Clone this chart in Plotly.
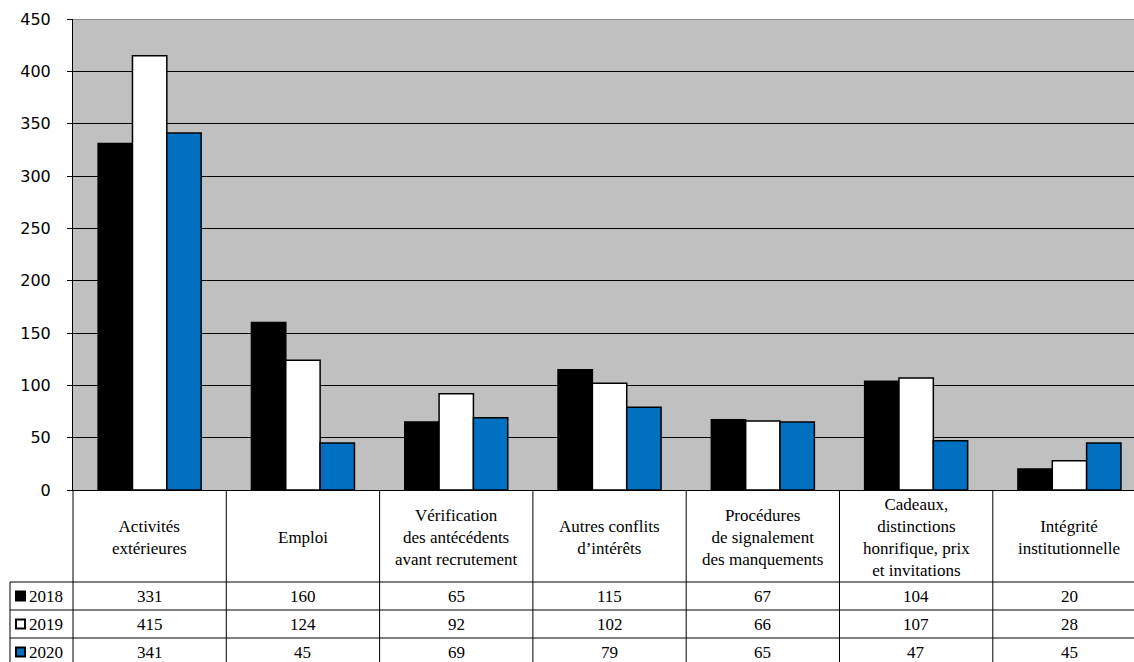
import plotly.graph_objects as go

categories = [
    "Activités<br>extérieures",
    "Emploi",
    "Vérification<br>des antécédents<br>avant recrutement",
    "Autres conflits<br>d’intérêts",
    "Procédures<br>de signalement<br>des manquements",
    "Cadeaux,<br>distinctions<br>honrifique, prix<br>et invitations",
    "Intégrité<br>institutionnelle",
]
years = ["2018", "2019", "2020"]
values_2018 = [331, 160, 65, 115, 67, 104, 20]
values_2019 = [415, 124, 92, 102, 66, 107, 28]
values_2020 = [341, 45, 69, 79, 65, 47, 45]
series = [values_2018, values_2019, values_2020]
colors = ["#000000", "#FFFFFF", "#0070C0"]
y_ticks = [0, 50, 100, 150, 200, 250, 300, 350, 400, 450]

W, H = 1134, 662
ML, MR, MT, MB = 73, 0, 19, 172
PW, PH = W - ML - MR, H - MT - MB
X0 = -0.5
X1 = X0 + PW / 153.3

def px_x(px):
    return (px - ML) / PW

def px_y(py):
    return (H - MB - py) / PH

def data_x(v):
    return (v - X0) / (X1 - X0)

xs = list(range(len(categories)))

fig = go.Figure()
for name, vals, col in zip(years, series, colors):
    fig.add_trace(go.Bar(
        x=xs, y=vals, name=name,
        marker=dict(color=col, line=dict(color="#000000", width=1.5)),
        showlegend=False,
    ))

shapes = []
annotations = []
serif = dict(family="Liberation Serif, Times New Roman, serif", size=17, color="#000000")

# top border of plot (gray)
shapes.append(dict(type="line", xref="paper", yref="y", x0=0, x1=1, y0=450, y1=450,
                   line=dict(color="#8a8a8a", width=2)))

# table: vertical lines at category boundaries
for i in range(len(categories)):
    xp = data_x(i - 0.5)
    shapes.append(dict(type="line", xref="paper", yref="paper", x0=xp, x1=xp,
                       y0=px_y(490), y1=px_y(H + 2), line=dict(color="#000000", width=1)))
# left border of year column
shapes.append(dict(type="line", xref="paper", yref="paper", x0=px_x(10), x1=px_x(10),
                   y0=px_y(582), y1=px_y(H + 2), line=dict(color="#000000", width=1)))
# horizontal rows
for py in [582, 610, 638]:
    shapes.append(dict(type="line", xref="paper", yref="paper", x0=px_x(10), x1=1,
                       y0=px_y(py), y1=px_y(py), line=dict(color="#000000", width=1)))

# header labels
for i, c in enumerate(categories):
    annotations.append(dict(x=i, xref="x", y=px_y(537), yref="paper", text=c,
                            showarrow=False, font=serif, align="center",
                            xanchor="center", yanchor="middle"))

# value rows
row_centers = [596, 624, 652]
for r, (name, vals, col) in enumerate(zip(years, series, colors)):
    yc = px_y(row_centers[r])
    for i, v in enumerate(vals):
        annotations.append(dict(x=i, xref="x", y=yc, yref="paper", text=str(v),
                                showarrow=False, font=serif, xanchor="center", yanchor="middle"))
    # legend key
    half = 4.5 / PH
    shapes.append(dict(type="rect", xref="paper", yref="paper",
                       x0=px_x(16), x1=px_x(25), y0=yc - half, y1=yc + half,
                       fillcolor=col, line=dict(color="#000000", width=2)))
    annotations.append(dict(x=px_x(27), xref="paper", y=yc, yref="paper", text=name,
                            showarrow=False, font=serif, xanchor="left", yanchor="middle"))

fig.update_layout(
    width=W, height=H,
    margin=dict(l=ML, r=MR, t=MT, b=MB, pad=0),
    paper_bgcolor="#FFFFFF",
    plot_bgcolor="#C0C0C0",
    barmode="group",
    bargap=0.328,
    bargroupgap=0,
    shapes=shapes,
    annotations=annotations,
    xaxis=dict(range=[X0, X1], showticklabels=False, ticks="", showgrid=False,
               zeroline=False, showline=True, linecolor="#000000", linewidth=1),
    yaxis=dict(range=[0, 450], tickvals=y_ticks, ticks="outside", ticklen=5,
               tickcolor="#000000", showline=True, linecolor="#000000", linewidth=1,
               showgrid=True, gridcolor="#000000", gridwidth=1, zeroline=False,
               ticklabelstandoff=13,
               tickfont=dict(family="DejaVu Sans", size=16, color="#000000")),
)

fig.write_html("out.html")
